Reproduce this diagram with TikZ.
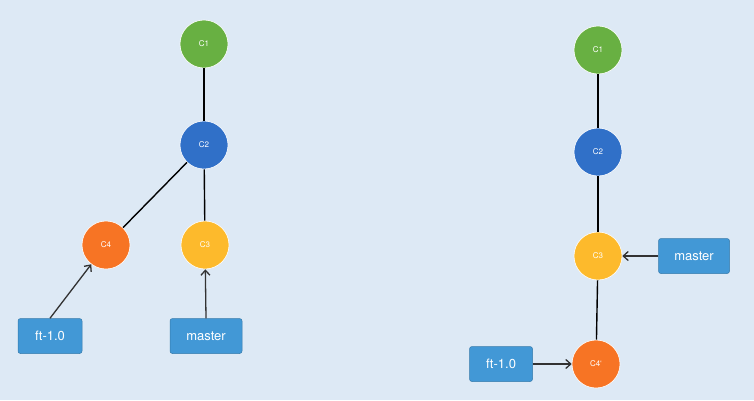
\documentclass[tikz,border=0pt]{standalone}
\usepackage{fontspec}
\setmainfont{TeX Gyre Heros}
\usetikzlibrary{arrows.meta}
\definecolor{bgblue}{RGB}{221,233,245}
\definecolor{cgreen}{RGB}{104,176,66}
\definecolor{cblue}{RGB}{48,112,200}
\definecolor{corange}{RGB}{247,116,36}
\definecolor{cyellow}{RGB}{253,186,44}
\definecolor{boxblue}{RGB}{66,152,214}
\tikzset{every picture/.style={line width=0.75pt}}
\tikzset{
  commit/.style={circle,draw=white,line width=0.6pt,minimum size=48pt,inner sep=0pt,text=white,font=\fontsize{8}{9}\selectfont},
  branchbox/.style={rectangle,rounded corners=2.5pt,draw=boxblue!80!black,line width=0.5pt,fill=boxblue,text=white,minimum height=35pt,inner sep=4pt,font=\fontsize{13}{15}\selectfont},
  edge/.style={line width=1.4pt,black},
  pointer/.style={line width=1.3pt,draw={rgb,255:red,50;green,50;blue,50},-{Straight Barb[length=5pt,width=9pt]}}
}
\begin{document}
\begin{tikzpicture}[x=1pt,y=-1pt]
	\fill[bgblue] (0,0) rectangle (754,400);
	\useasboundingbox (0,0) rectangle (754,400);
	
	% left history
	\node[commit,fill=cgreen] (lc1) at (204,44) {C1};
	\node[commit,fill=cblue] (lc2) at (204,145) {C2};
	\node[commit,fill=corange] (lc4) at (106,245) {C4};
	\node[commit,fill=cyellow] (lc3) at (205,245) {C3};
	\node[branchbox,minimum width=64pt] (lft) at (50,336) {ft-1.0};
	\node[branchbox,minimum width=72pt] (lmaster) at (206,336) {master};
	\draw[edge] (lc1) -- (lc2);
	\draw[edge] (lc2) -- (lc3);
	\draw[edge] (lc2) -- (lc4);
	\draw[pointer] (lft.north) -- (lc4);
	\draw[pointer] (lmaster.north) -- (lc3);
	
	% right history
	\node[commit,fill=cgreen] (rc1) at (598,50) {C1};
	\node[commit,fill=cblue] (rc2) at (598,152) {C2};
	\node[commit,fill=cyellow] (rc3) at (598,256) {C3};
	\node[commit,fill=corange] (rc4) at (596,364) {C4`};
	\node[branchbox,minimum width=71pt] (rmaster) at (694,256) {master};
	\node[branchbox,minimum width=63pt] (rft) at (501,364) {ft-1.0};
	\draw[edge] (rc1) -- (rc2);
	\draw[edge] (rc2) -- (rc3);
	\draw[edge] (rc3) -- (rc4);
	\draw[pointer] (rmaster) -- (rc3);
	\draw[pointer] (rft) -- (rc4);
\end{tikzpicture}
\end{document}
